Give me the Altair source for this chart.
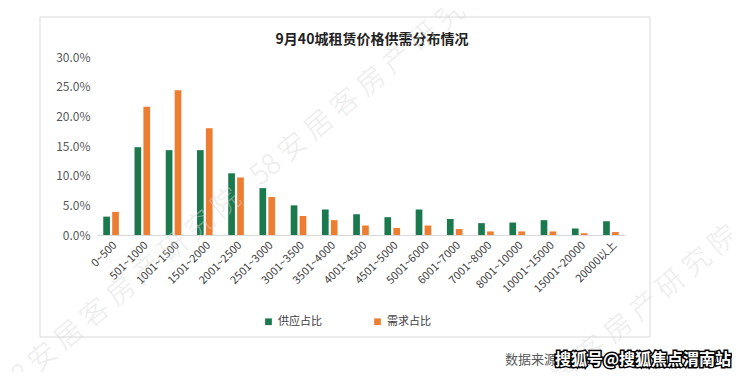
import altair as alt
import pandas as pd

categories = ["0~500", "501~1000", "1001~1500", "1501~2000", "2001~2500", "2501~3000",
              "3001~3500", "3501~4000", "4001~4500", "4501~5000", "5001~6000", "6001~7000",
              "7001~8000", "8001~10000", "10001~15000", "15001~20000", "20000以上"]
supply = [3.1, 14.8, 14.3, 14.3, 10.4, 7.9, 5.0, 4.3, 3.5, 3.0, 4.3, 2.7, 2.0, 2.1, 2.5, 1.1, 2.3]
demand = [3.9, 21.6, 24.4, 18.0, 9.7, 6.4, 3.2, 2.5, 1.6, 1.2, 1.6, 1.0, 0.6, 0.6, 0.6, 0.3, 0.5]
series = ["供应占比", "需求占比"]
colors = ["#1a7a4e", "#ed7d31"]
y_ticks = [0, 0.05, 0.10, 0.15, 0.20, 0.25, 0.30]
title_text = "9月40城租赁价格供需分布情况"

rows = []
for c, s, d in zip(categories, supply, demand):
    rows.append({"区间": c, "类别": series[0], "占比": s / 100})
    rows.append({"区间": c, "类别": series[1], "占比": d / 100})
df = pd.DataFrame(rows)

FONT = "Noto Sans CJK SC"
W, H = 528, 178

bars = alt.Chart(df).mark_bar().encode(
    x=alt.X("区间:N", sort=categories, title=None,
            scale=alt.Scale(paddingInner=0.5, paddingOuter=0.2),
            axis=alt.Axis(labelAngle=-45, labelFontSize=11, labelColor="#404040",
                          labelFont=FONT, ticks=False, domainColor="#d9d9d9",
                          labelPadding=4, grid=False)),
    xOffset=alt.XOffset("类别:N", sort=series, scale=alt.Scale(paddingInner=0.25)),
    y=alt.Y("占比:Q", title=None, scale=alt.Scale(domain=[0, 0.3]),
            axis=alt.Axis(format=".1%", values=y_ticks, grid=False, domain=False,
                          ticks=False, labelPadding=7, labelFontSize=12,
                          labelColor="#595959", labelFont=FONT)),
    color=alt.Color("类别:N", scale=alt.Scale(domain=series, range=colors),
                    legend=alt.Legend(title=None, orient="none", legendX=166, legendY=259,
                                      direction="horizontal", symbolType="square",
                                      symbolSize=45, labelFontSize=11, labelFont=FONT,
                                      labelColor="#404040", columnPadding=50,
                                      labelOffset=4)),
)

frame = alt.Chart(pd.DataFrame({"k": [0]})).mark_rect(
    fill=None, stroke="#d9d9d9", strokeWidth=1
).encode(x=alt.value(-57), x2=alt.value(553), y=alt.value(-40), y2=alt.value(280))

title = alt.Chart(pd.DataFrame({"t": [title_text]})).mark_text(
    align="center", baseline="middle", fontSize=14, font=FONT, fontWeight="bold",
    color="#222222"
).encode(text="t:N", x=alt.value(275), y=alt.value(-17))

def watermark(px, py):
    return alt.Chart(pd.DataFrame({"t": ["58 安 居 客 房 产 研 究 院"]})).mark_text(
        align="left", baseline="middle", angle=320, fontSize=28, font=FONT,
        fontWeight=300, color="#d6d6d6", opacity=0.45
    ).encode(text="t:N", x=alt.value(px), y=alt.value(py))

source = alt.Chart(pd.DataFrame({"t": ["数据来源"]})).mark_text(
    align="left", baseline="middle", fontSize=13, font=FONT, color="#595959"
).encode(text="t:N", x=alt.value(408), y=alt.value(303))

sohu_txt = "搜狐号@搜狐焦点渭南站"
sohu_back = alt.Chart(pd.DataFrame({"t": [sohu_txt]})).mark_text(
    align="left", baseline="middle", fontSize=16, font=FONT, fontWeight="bold",
    fill="black", stroke="black", strokeWidth=3
).encode(text="t:N", x=alt.value(458), y=alt.value(303))
sohu_front = alt.Chart(pd.DataFrame({"t": [sohu_txt]})).mark_text(
    align="left", baseline="middle", fontSize=16, font=FONT, fontWeight="bold",
    fill="white"
).encode(text="t:N", x=alt.value(458), y=alt.value(303))

chart = alt.layer(
    frame, title, bars, watermark(-92, 333), watermark(158, 123), watermark(405, 370),
    source, sohu_back, sohu_front
).properties(
    width=W, height=H,
    autosize=alt.AutoSizeParams(type="none"),
    padding={"left": 89, "top": 49, "right": 107, "bottom": 137},
    background="white",
).configure_view(stroke=None)

chart.save("out.html", embed_options={"renderer": "svg", "actions": False})
